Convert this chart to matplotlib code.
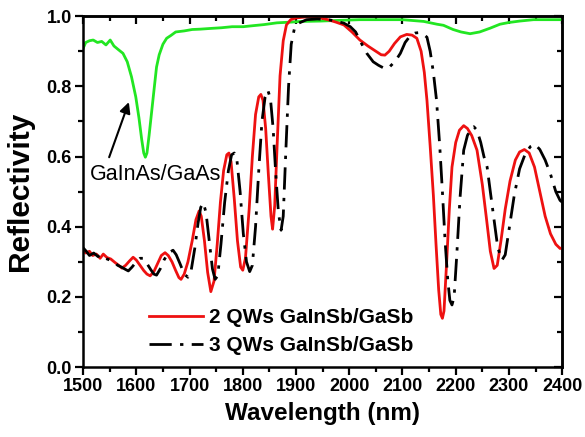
import matplotlib
matplotlib.use("Agg")
import matplotlib.pyplot as plt
from matplotlib.ticker import MultipleLocator

plt.rcParams["font.family"] = ["Liberation Sans", "DejaVu Sans"]

# 2 QWs GaInSb/GaSb (red, solid)
wl_2qw = [1500, 1505, 1512, 1518, 1525, 1532, 1538, 1545, 1552, 1560, 1567, 1573,
          1580, 1587, 1594, 1600, 1607, 1614, 1620, 1626, 1633, 1640, 1647, 1654,
          1660, 1667, 1674, 1680, 1684, 1690, 1697, 1705, 1712, 1718, 1722, 1728,
          1734, 1740, 1746, 1752, 1758, 1764, 1770, 1774, 1778, 1784, 1790, 1796,
          1800, 1805, 1812, 1818, 1824, 1830, 1834, 1838, 1843, 1848, 1853, 1856,
          1860, 1865, 1870, 1876, 1882, 1890, 1900, 1920, 1940, 1960, 1975, 1990,
          2005, 2020, 2035, 2050, 2060, 2067, 2075, 2085, 2096, 2108, 2118, 2127,
          2135, 2141, 2146, 2152, 2158, 2163, 2168, 2172, 2175, 2178, 2183, 2188,
          2193, 2200, 2207, 2215, 2222, 2230, 2240, 2250, 2258, 2265, 2272, 2278,
          2285, 2293, 2302, 2312, 2320, 2329, 2338, 2348, 2358, 2368, 2378, 2388,
          2396, 2400]
r_2qw = [0.335, 0.325, 0.330, 0.318, 0.322, 0.310, 0.322, 0.312, 0.308, 0.298, 0.290, 0.282,
         0.290, 0.302, 0.313, 0.305, 0.290, 0.275, 0.265, 0.260, 0.272, 0.295, 0.318, 0.326,
         0.318, 0.300, 0.275, 0.255, 0.250, 0.265, 0.300, 0.360, 0.420, 0.445, 0.430, 0.360,
         0.270, 0.215, 0.245, 0.350, 0.470, 0.560, 0.605, 0.610, 0.585, 0.480, 0.360, 0.285,
         0.276, 0.310, 0.450, 0.600, 0.720, 0.770, 0.777, 0.760, 0.680, 0.550, 0.430, 0.393,
         0.460, 0.650, 0.830, 0.930, 0.975, 0.990, 0.995, 0.998, 0.997, 0.990, 0.983, 0.975,
         0.955, 0.932, 0.915, 0.900, 0.890, 0.889, 0.900, 0.922, 0.941, 0.948, 0.946, 0.937,
         0.900, 0.840, 0.760, 0.630, 0.490, 0.350, 0.220, 0.150, 0.139, 0.160, 0.300, 0.450,
         0.570, 0.640, 0.675, 0.688, 0.680, 0.660, 0.618, 0.520, 0.420, 0.330, 0.281, 0.290,
         0.360, 0.450, 0.530, 0.590, 0.613, 0.620, 0.610, 0.570, 0.500, 0.430, 0.380, 0.350,
         0.338, 0.340]

# 3 QWs GaInSb/GaSb (black, dash-dot)
wl_3qw = [1500, 1506, 1512, 1520, 1528, 1535, 1542, 1550, 1558, 1565, 1572, 1580,
          1585, 1592, 1600, 1607, 1613, 1620, 1627, 1633, 1638, 1645, 1652, 1660,
          1669, 1675, 1682, 1690, 1697, 1703, 1710, 1716, 1721, 1726, 1731, 1737,
          1743, 1748, 1753, 1759, 1766, 1773, 1779, 1784, 1789, 1795, 1801, 1807,
          1813, 1818, 1824, 1830, 1836, 1842, 1847, 1852, 1857, 1862, 1867, 1872,
          1876, 1881, 1886, 1891, 1897, 1905, 1920, 1940, 1960, 1975, 1990, 2002,
          2012, 2022, 2033, 2045, 2055, 2065, 2073, 2082, 2090, 2096, 2105, 2115,
          2124, 2130, 2138, 2146, 2152, 2158, 2164, 2170, 2175, 2180, 2185, 2189,
          2193, 2197, 2202, 2208, 2215, 2222, 2229, 2234, 2240, 2247, 2253, 2259,
          2265, 2272, 2279, 2287, 2293, 2300, 2310, 2320, 2330, 2340, 2349, 2358,
          2368, 2378, 2388, 2396, 2400]
r_3qw = [0.340, 0.330, 0.318, 0.325, 0.315, 0.320, 0.310, 0.305, 0.300, 0.290, 0.285, 0.278,
         0.274, 0.285, 0.300, 0.310, 0.310, 0.295, 0.278, 0.265, 0.262, 0.280, 0.305, 0.325,
         0.333, 0.320, 0.295, 0.265, 0.256, 0.275, 0.340, 0.410, 0.455, 0.468, 0.440, 0.360,
         0.280, 0.250, 0.260, 0.350, 0.470, 0.560, 0.605, 0.610, 0.590, 0.500, 0.380, 0.300,
         0.272, 0.290, 0.400, 0.560, 0.700, 0.770, 0.789, 0.765, 0.680, 0.550, 0.440, 0.390,
         0.430, 0.620, 0.800, 0.920, 0.965, 0.980, 0.990, 0.992, 0.990, 0.986, 0.980, 0.970,
         0.955, 0.925, 0.894, 0.870, 0.860, 0.852, 0.851, 0.865, 0.880, 0.894, 0.925, 0.945,
         0.952, 0.953, 0.950, 0.940, 0.900, 0.840, 0.760, 0.630, 0.500, 0.360, 0.250, 0.190,
         0.177, 0.200, 0.320, 0.480, 0.618, 0.660, 0.680, 0.685, 0.675, 0.640, 0.600, 0.570,
         0.500, 0.420, 0.340, 0.305, 0.320, 0.390, 0.490, 0.565, 0.605, 0.628, 0.635, 0.620,
         0.590, 0.550, 0.500, 0.475, 0.470]

# GaInAs/GaAs (green)
wl_gaas = [1500, 1505, 1512, 1519, 1527, 1535, 1543, 1551, 1558, 1566, 1575, 1583,
           1591, 1599, 1605, 1610, 1614, 1617, 1620, 1624, 1629, 1634, 1638, 1643,
           1650, 1657, 1665, 1674, 1690, 1705, 1720, 1739, 1760, 1780, 1801, 1820,
           1840, 1864, 1890, 1910, 1945, 1980, 2020, 2060, 2100, 2140, 2165, 2177,
           2195, 2210, 2227, 2245, 2265, 2283, 2300, 2320, 2346, 2370, 2400]
r_gaas = [0.908, 0.925, 0.930, 0.932, 0.925, 0.928, 0.918, 0.932, 0.915, 0.905, 0.894, 0.870,
          0.827, 0.770, 0.710, 0.650, 0.610, 0.598, 0.610, 0.660, 0.730, 0.800, 0.855, 0.890,
          0.920, 0.937, 0.945, 0.955, 0.958, 0.962, 0.963, 0.965, 0.967, 0.970, 0.970, 0.973,
          0.976, 0.981, 0.983, 0.985, 0.986, 0.988, 0.990, 0.990, 0.990, 0.985, 0.977, 0.974,
          0.962, 0.955, 0.950, 0.955, 0.966, 0.977, 0.982, 0.986, 0.990, 0.990, 0.990]

fig = plt.figure(figsize=(5.85, 4.37), dpi=100)
ax = fig.add_axes([0.142, 0.160, 0.819, 0.803])

ax.plot(wl_gaas, r_gaas, color="#22e622", linewidth=2)
ax.plot(wl_2qw, r_2qw, color="#ee1111", linewidth=2, label="2 QWs GaInSb/GaSb")
ax.plot(wl_3qw, r_3qw, color="black", linewidth=2, linestyle=(0, (8, 3, 1.2, 3)),
        label="3 QWs GaInSb/GaSb")

ax.set_xlim(1500, 2400)
ax.set_ylim(0.0, 1.0)
ax.xaxis.set_major_locator(MultipleLocator(100))
ax.xaxis.set_minor_locator(MultipleLocator(50))
ax.yaxis.set_major_locator(MultipleLocator(0.2))
ax.yaxis.set_minor_locator(MultipleLocator(0.1))
ax.yaxis.set_major_formatter(plt.FormatStrFormatter("%.1f"))

ax.tick_params(which="both", width=1.6, top=False, right=False, direction="out")
ax.tick_params(which="major", length=6, labelsize=13, pad=2)
ax.tick_params(which="minor", length=3.5)
for lab in ax.get_xticklabels() + ax.get_yticklabels():
    lab.set_fontweight("bold")

# inward ticks on top and right
secx = ax.secondary_xaxis("top")
secx.xaxis.set_major_locator(MultipleLocator(100))
secx.xaxis.set_minor_locator(MultipleLocator(50))
secx.tick_params(which="both", direction="in", width=1.6, labeltop=False)
secx.tick_params(which="major", length=6)
secx.tick_params(which="minor", length=3.5)
secy = ax.secondary_yaxis("right")
secy.yaxis.set_major_locator(MultipleLocator(0.2))
secy.yaxis.set_minor_locator(MultipleLocator(0.1))
secy.tick_params(which="both", direction="in", width=1.6, labelright=False)
secy.tick_params(which="major", length=6)
secy.tick_params(which="minor", length=3.5)
for s in list(ax.spines.values()) + [secx.spines["top"], secy.spines["right"]]:
    s.set_linewidth(1.8)

ax.set_xlabel("Wavelength (nm)", fontsize=17.5, fontweight="bold", labelpad=5)
ax.set_ylabel("Reflectivity", fontsize=21.5, fontweight="bold", labelpad=9)

ax.text(1513, 0.548, "GaInAs/GaAs", fontsize=15.5, ha="left", va="center")
ax.annotate("", xy=(1586, 0.755), xytext=(1549, 0.598),
            arrowprops=dict(arrowstyle="-|>", color="black", lw=1.5,
                            mutation_scale=16, shrinkA=0, shrinkB=0))

leg = ax.legend(loc="lower left", bbox_to_anchor=(0.107, -0.008), frameon=False,
                prop={"weight": "bold", "size": 15}, handlelength=2.6,
                handletextpad=0.3, labelspacing=0.45, borderpad=0.2)

fig.savefig("out.png", dpi=100)
